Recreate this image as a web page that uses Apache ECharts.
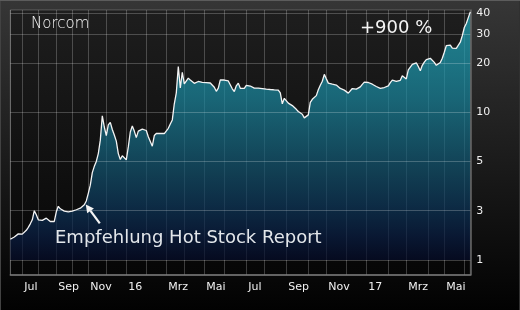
<!DOCTYPE html>
<html><head><meta charset="utf-8">
<script src="https://cdn.jsdelivr.net/npm/echarts@6/dist/echarts.min.js"></script>
<style>
html,body{margin:0;padding:0;background:#000;}
#c{width:520px;height:310px;background:linear-gradient(to bottom,#363636 0%,#1c1c1c 50%,#020202 100%);box-shadow:inset 0 1px 0 #5c5c5c,inset 1px 0 0 #424242,inset -1px 0 0 #303030;}
</style></head><body><div id="c"></div>
<script>
// ---- data (closing prices, EUR) ----
const months = ['2015-06','2015-07','2015-08','2015-09','2015-10','2015-11','2015-12',
  '2016-01','2016-02','2016-03','2016-04','2016-05','2016-06','2016-07','2016-08','2016-09','2016-10','2016-11','2016-12',
  '2017-01','2017-02','2017-03','2017-04','2017-05','2017-06'];
const jun15 = [1.59,1.62,1.67,1.73,1.79,1.82];
const jul15 = [1.78,1.81,1.94,2.07,2.24,2.45,3.00,2.74];
const aug15 = [2.45,2.40,2.42,2.48,2.54,2.45,2.36,2.45,2.36];
const sep15 = [2.93,3.14,3.06,3.02,2.97,2.90,2.93,2.85];
const oct15 = [2.97,3.00,3.03,3.05,3.08,3.13,3.19,3.32];
const nov15 = [3.59,3.91,4.45,4.75,5.00,5.58,6.74,9.49,8.11];
const dec15 = [7.19,8.35,8.65,7.83,7.24,6.65,5.58,5.14,5.41,5.33];
const jan16 = [5.11,6.13,7.56,8.23,7.66,6.99,7.66,7.61,7.88,7.94];
const feb16 = [7.72,7.07,6.91,6.19,7.19,7.40,7.24,7.42,7.42,7.40];
const mar16 = [7.29,7.96,8.47,8.96,11.24,13.12,18.99,14.07,17.50];
const apr16 = [14.89,14.89,16.13,15.68,15.38,14.99,14.89,15.38,15.64,15.20];
const may16 = [15.20,15.14,15.38,15.06,14.99,14.17,13.40,14.01,15.75,15.86];
const jun16 = [15.70,15.62,15.49,15.20,13.88,13.36,14.47,15.03,13.97,13.78,13.97];
const jul16 = [14.58,14.33,14.43,14.11,14.01,14.01,14.01,13.99,13.92];
const aug16 = [13.88,13.82,13.78,13.74,13.68,13.68,13.68,13.64,13.12,11.24,12.14];
const sep16 = [12.06,11.35,11.08,10.96,10.85,10.40,10.08,9.84,9.71,9.22,9.09];
const oct16 = [9.62,11.48,11.97,12.06,12.61,13.68,14.58,15.42,17.01];
const nov16 = [15.97,15.03,15.10,14.80,14.56,14.62,14.33,13.95,13.62,13.62];
const dec16 = [13.43,13.06,12.75,13.93,13.82,13.82,13.68,14.27,14.78,15.25];
const jan17 = [15.10,15.16,15.01,14.80,14.56,14.33,14.21,13.97,13.88,14.13,14.21];
const feb17 = [14.47,15.14,15.68,15.46,15.38,15.16,15.64,16.66,16.22];
const mar17 = [15.95,18.13,18.64,19.58,19.86,20.00,18.99,17.87,19.31,20.20,20.93];
const apr17 = [21.37,21.31,20.81,20.11,19.31,19.45,20.08,21.31];
const may17 = [23.20,25.43,25.18,25.61,24.55,24.13,24.51,24.27,26.72,29.29];
const jun17 = [32.85,34.79,37.76,40.93];
const monthValues = [jun15,jul15,aug15,sep15,oct15,nov15,dec15,jan16,feb16,mar16,apr16,may16,
  jun16,jul16,aug16,sep16,oct16,nov16,dec16,jan17,feb17,mar17,apr17,may17,jun17];

const yTicks = [1,3,5,10,20,30,40];
const monthLabels = {3:'Mrz',5:'Mai',7:'Jul',9:'Sep',11:'Nov'};
const titleText = 'Norcom';
const perfText = '+900 %';
const noteText = 'Empfehlung Hot Stock Report';
const noteAt = '2015-10/8';

// ---- axis scale: ticks 1,3,5 equally stepped, logarithmic (base 2 per step) from 5 up ----
function toStep(p){
  if (p >= 5) return 2 + Math.log2(p/5);
  if (p >= 3) return 1 + Math.log(p/3)/Math.log(5/3);
  return Math.log(p)/Math.log(3);
}
const tickSteps = yTicks.map(toStep);
function labelFor(v){
  for (let i=0;i<tickSteps.length;i++) if (Math.abs(tickSteps[i]-v) < 1e-6) return String(yTicks[i]);
  return '';
}

const categories = [], seriesData = [];
months.forEach((m, mi) => {
  monthValues[mi].forEach((v, k) => {
    categories.push(m + '/' + (k+1));
    seriesData.push(toStep(v));
  });
});

const chart = echarts.init(document.getElementById('c'), null, {renderer:'canvas'});
const gridLine = 'rgba(255,255,255,0.22)';
chart.setOption({
  animation: false,
  backgroundColor: 'transparent',
  grid: {left: 10.3, right: 49.7, top: 10, bottom: 35, show: true,
    borderColor: gridLine, borderWidth: 1,
    backgroundColor: new echarts.graphic.LinearGradient(0,0,0,1,[{offset:0,color:'#1e1e1e'},{offset:1,color:'#060606'}])},
  xAxis: {
    type: 'category', data: categories, boundaryGap: false, z: 3,
    axisLine: {show: true, onZero: false, lineStyle: {color: '#7a7a7a', width: 1.5}},
    axisTick: {show: false},
    axisLabel: {
      interval: (i, v) => { const [ym, k] = v.split('/'); return k === '1' && (+ym.slice(5)) % 2 === 1; },
      formatter: v => { const ym = v.split('/')[0]; const mo = +ym.slice(5); return mo === 1 ? ym.slice(2,4) : monthLabels[mo]; },
      align: 'left', padding: [0,0,0,2], margin: 7,
      color: '#f0f0f0', fontFamily: 'DejaVu Sans', fontSize: 11
    },
    splitLine: {show: true, interval: (i, v) => i === 0 || v.split('/')[1] === '1', lineStyle: {color: gridLine, width: 1}}
  },
  yAxis: {
    type: 'value', position: 'right', min: -0.304, max: 5.071, z: 3,
    axisLine: {show: true, onZero: false, lineStyle: {color: '#6a6a6a', width: 1.5}},
    axisTick: {show: false, customValues: tickSteps},
    axisLabel: {customValues: tickSteps, formatter: labelFor, color: '#f0f0f0', fontFamily: 'DejaVu Sans', fontSize: 11, margin: 6},
    splitLine: {show: false}
  },
  series: [{
    type: 'line', data: seriesData, symbol: 'none', smooth: false,
    lineStyle: {color: '#f4f4f4', width: 1.3},
    areaStyle: {color: new echarts.graphic.LinearGradient(0,0,0,1,[
      {offset:0,color:'#22acc0'},{offset:0.2,color:'#1e9bb1'},{offset:0.35,color:'#1a88a0'},
      {offset:0.5,color:'#166d87'},{offset:0.65,color:'#12526f'},{offset:0.78,color:'#0d395d'},
      {offset:0.9,color:'#091f45'},{offset:1,color:'#050c2a'}])},
    markLine: {silent: true, symbol: 'none', label: {show: false},
      lineStyle: {color: gridLine, width: 1, type: 'solid'},
      data: tickSteps.map(s => ({yAxis: s}))}
  }]
});

const idx = categories.indexOf(noteAt);
const pt = chart.convertToPixel({xAxisIndex:0, yAxisIndex:0}, [idx, seriesData[idx]]);
const tip = [pt[0] - 0.5, pt[1] + 3.5];
const dx = 14, dy = 19, len = Math.hypot(dx, dy), ux = dx/len, uy = dy/len;
const hl = 8, hw = 4.2;
const base = [tip[0] + ux*hl, tip[1] + uy*hl];
chart.setOption({
  graphic: [
    {type:'text', z: 100, left: 31, top: 16.5, style:{text: titleText, fill:'#f4f4f4', font:'300 15px "DejaVu Sans"'}},
    {type:'text', z: 100, left: 360, top: 19, style:{text: perfText, fill:'#f4f4f4', font:'18px "DejaVu Sans"'}},
    {type:'text', z: 100, left: 55, top: 229.5, style:{text: noteText, fill:'#e2e6ea', font:'18px "DejaVu Sans"'}},
    {type:'line', z: 100, shape:{x1: base[0], y1: base[1], x2: tip[0]+dx, y2: tip[1]+dy}, style:{stroke:'#f4f4f4', lineWidth: 2.2}},
    {type:'polygon', z: 100, shape:{points:[tip, [base[0]-uy*hw, base[1]+ux*hw], [base[0]+uy*hw, base[1]-ux*hw]]}, style:{fill:'#f4f4f4'}}
  ]
});
</script></body></html>
